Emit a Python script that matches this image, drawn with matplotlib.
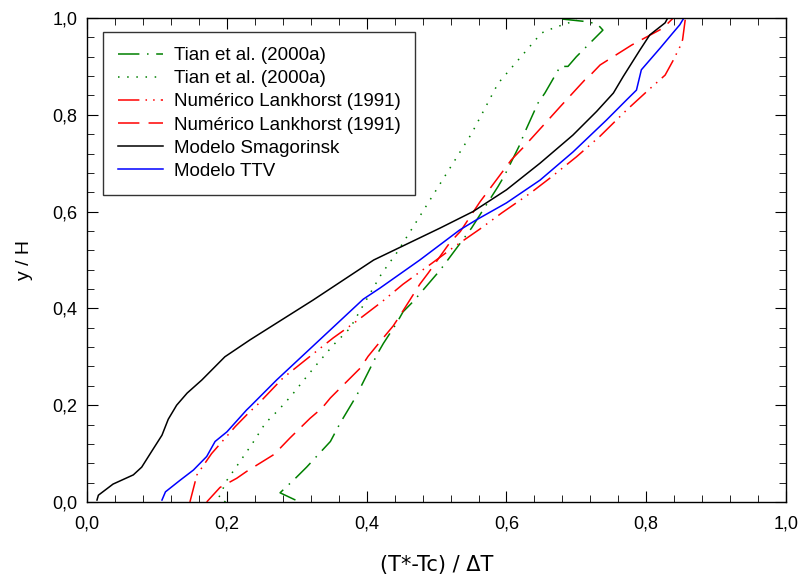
import numpy as np
import matplotlib
matplotlib.use("Agg")
import matplotlib.pyplot as plt
from matplotlib.ticker import MultipleLocator, FuncFormatter

plt.rcParams['font.family'] = ['Liberation Sans', 'DejaVu Sans']

# Tian et al. (2000a) - dash-dot
tian1_x = [0.298, 0.276, 0.298, 0.314, 0.348, 0.362, 0.386, 0.393, 0.416, 0.424, 0.443,
           0.452, 0.467, 0.505, 0.517, 0.550, 0.588, 0.597, 0.619, 0.625, 0.645, 0.655,
           0.677, 0.688, 0.700, 0.738, 0.731, 0.718, 0.672]
tian1_y = [0.004, 0.019, 0.049, 0.072, 0.125, 0.163, 0.221, 0.242, 0.308, 0.328, 0.370,
           0.393, 0.415, 0.479, 0.502, 0.566, 0.652, 0.674, 0.738, 0.760, 0.824, 0.845,
           0.900, 0.900, 0.920, 0.975, 0.986, 0.992, 0.999]

# Tian et al. (2000a) - dotted
tian2_x = [0.198, 0.188, 0.200, 0.214, 0.236, 0.255, 0.264, 0.275, 0.293, 0.309, 0.326,
           0.352, 0.376, 0.398, 0.421, 0.443, 0.468, 0.507, 0.550, 0.588, 0.650, 0.670,
           0.681, 0.693, 0.700]
tian2_y = [0.000, 0.008, 0.045, 0.074, 0.120, 0.163, 0.176, 0.192, 0.221, 0.250, 0.280,
           0.324, 0.359, 0.414, 0.471, 0.515, 0.572, 0.662, 0.761, 0.865, 0.969, 0.981,
           0.986, 0.992, 0.998]

# Numerico Lankhorst (1991) - dash-dot-dot
lank1_x = [0.147, 0.157, 0.178, 0.212, 0.233, 0.243, 0.280, 0.312, 0.352, 0.383, 0.422,
           0.452, 0.493, 0.523, 0.562, 0.593, 0.634, 0.662, 0.700, 0.734, 0.772, 0.803,
           0.827, 0.838, 0.848, 0.852, 0.856]
lank1_y = [0.000, 0.056, 0.100, 0.156, 0.187, 0.200, 0.256, 0.293, 0.339, 0.371, 0.414,
           0.450, 0.493, 0.525, 0.564, 0.597, 0.638, 0.669, 0.713, 0.756, 0.810, 0.851,
           0.882, 0.911, 0.940, 0.955, 0.999]

# Numerico Lankhorst (1991) - dashed
lank2_x = [0.171, 0.190, 0.214, 0.228, 0.266, 0.276, 0.290, 0.319, 0.336, 0.348, 0.391,
           0.402, 0.419, 0.438, 0.448, 0.476, 0.488, 0.519, 0.534, 0.545, 0.562, 0.575,
           0.607, 0.623, 0.662, 0.677, 0.712, 0.720, 0.734, 0.779, 0.793, 0.824, 0.833,
           0.838]
lank2_y = [0.000, 0.030, 0.049, 0.063, 0.097, 0.111, 0.132, 0.173, 0.194, 0.215, 0.277,
           0.301, 0.331, 0.364, 0.386, 0.450, 0.473, 0.536, 0.559, 0.583, 0.620, 0.645,
           0.707, 0.731, 0.793, 0.817, 0.872, 0.882, 0.903, 0.944, 0.955, 0.979, 0.992,
           0.999]

# Modelo Smagorinsky
smag_x = [0.014, 0.016, 0.037, 0.066, 0.078, 0.092, 0.107, 0.116, 0.128, 0.143, 0.164,
          0.197, 0.233, 0.323, 0.410, 0.505, 0.552, 0.600, 0.648, 0.695, 0.729, 0.753,
          0.767, 0.791, 0.805, 0.827, 0.830]
smag_y = [0.004, 0.014, 0.037, 0.056, 0.072, 0.104, 0.138, 0.171, 0.200, 0.225, 0.252,
          0.300, 0.335, 0.417, 0.500, 0.566, 0.600, 0.645, 0.700, 0.758, 0.807, 0.845,
          0.879, 0.934, 0.965, 0.990, 0.998]

# Modelo TTV
ttv_x = [0.107, 0.112, 0.133, 0.152, 0.171, 0.183, 0.200, 0.228, 0.233, 0.271, 0.395,
         0.419, 0.476, 0.533, 0.557, 0.600, 0.648, 0.695, 0.743, 0.772, 0.786, 0.793,
         0.820, 0.838, 0.848, 0.853]
ttv_y = [0.004, 0.021, 0.045, 0.066, 0.094, 0.125, 0.145, 0.190, 0.197, 0.252, 0.419,
         0.442, 0.500, 0.562, 0.583, 0.618, 0.665, 0.723, 0.789, 0.831, 0.851, 0.893,
         0.938, 0.969, 0.986, 0.998]

green = '#008000'

fig = plt.figure(figsize=(8, 5.81), dpi=100)
ax = fig.add_axes([0.109, 0.136, 0.8735, 0.833])

lw = 1.1
ax.plot(tian1_x, tian1_y, color=green, lw=lw, dashes=(14, 5, 1, 5), label='Tian et al. (2000a)')
ax.plot(tian2_x, tian2_y, color=green, lw=lw, dashes=(1, 5), label='Tian et al. (2000a)')
ax.plot(lank1_x, lank1_y, color='red', lw=lw, dashes=(14, 4, 1, 4, 1, 4), label='Numérico Lankhorst (1991)')
ax.plot(lank2_x, lank2_y, color='red', lw=lw, dashes=(14, 6), label='Numérico Lankhorst (1991)')
ax.plot(smag_x, smag_y, color='black', lw=lw, label='Modelo Smagorinsk')
ax.plot(ttv_x, ttv_y, color='blue', lw=lw, label='Modelo TTV')

ax.set_xlim(0, 1)
ax.set_ylim(0, 1)
ax.xaxis.set_major_locator(MultipleLocator(0.2))
ax.yaxis.set_major_locator(MultipleLocator(0.2))
ax.xaxis.set_minor_locator(MultipleLocator(0.04))
ax.yaxis.set_minor_locator(MultipleLocator(0.04))
fmt = FuncFormatter(lambda v, p: ('%.1f' % v).replace('.', ','))
ax.xaxis.set_major_formatter(fmt)
ax.yaxis.set_major_formatter(fmt)
ax.tick_params(which='both', direction='in', top=True, right=True, labelsize=13)
ax.tick_params(axis='x', pad=10)
ax.tick_params(axis='y', pad=7)
ax.tick_params(which='major', length=8)
ax.tick_params(which='minor', length=5)
for s in ax.spines.values():
    s.set_linewidth(1.0)

ax.set_xlabel('(T*-Tc) / ΔT', fontsize=15, labelpad=16, family=['Liberation Sans Narrow', 'DejaVu Sans'])
ax.set_ylabel('y / H', fontsize=14, labelpad=14)

leg = ax.legend(loc='upper left', bbox_to_anchor=(0.0229, 0.971), fontsize=13.5, handlelength=2.4,
                frameon=True, fancybox=False, borderpad=0.8, labelspacing=0.32,
                handletextpad=0.55, borderaxespad=0)
leg.get_frame().set_edgecolor('black')
leg.get_frame().set_linewidth(1.0)

fig.savefig('out.png', dpi=100)
